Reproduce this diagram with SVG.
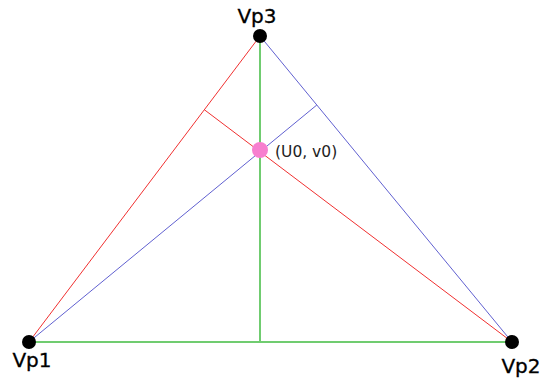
<svg xmlns="http://www.w3.org/2000/svg" width="541" height="378" viewBox="0 0 541 378">
<style>
.r{stroke:#f03030;stroke-width:1;fill:none}
.b{stroke:#6060d0;stroke-width:1;fill:none}
.g{stroke:#70cc70;stroke-width:2;fill:none}
.vp{fill:#000}
.lbl{font-family:"DejaVu Sans",sans-serif;font-size:20px;fill:#000;stroke:#000;stroke-width:0.3}
.sm{font-family:"DejaVu Sans",sans-serif;font-size:15.5px;fill:#222}
</style>
<rect width="541" height="378" fill="#fff"/>
<g id="connectors">
<line class="g" x1="29" y1="342" x2="512" y2="342"/>
<line class="g" x1="260" y1="36" x2="260" y2="342"/>
<line class="r" x1="29" y1="342" x2="260" y2="36"/>
<line class="r" x1="512" y1="342" x2="204.3" y2="109.7"/>
<line class="b" x1="512" y1="342" x2="260" y2="36"/>
<line class="b" x1="29" y1="342" x2="316.8" y2="105"/>
</g>
<g id="vp3"><circle class="vp" cx="260" cy="36" r="7"/><text class="lbl" x="257" y="23" text-anchor="middle">Vp3</text></g>
<g id="vp1"><circle class="vp" cx="29" cy="342" r="7"/><text class="lbl" x="32" y="367" text-anchor="middle">Vp1</text></g>
<g id="vp2"><circle class="vp" cx="512" cy="342" r="7"/><text class="lbl" x="521" y="373" text-anchor="middle">Vp2</text></g>
<g id="center"><circle cx="260" cy="150" r="8" fill="#f77fcf"/><text class="sm" x="275" y="157">(U0, v0)</text></g>
</svg>
